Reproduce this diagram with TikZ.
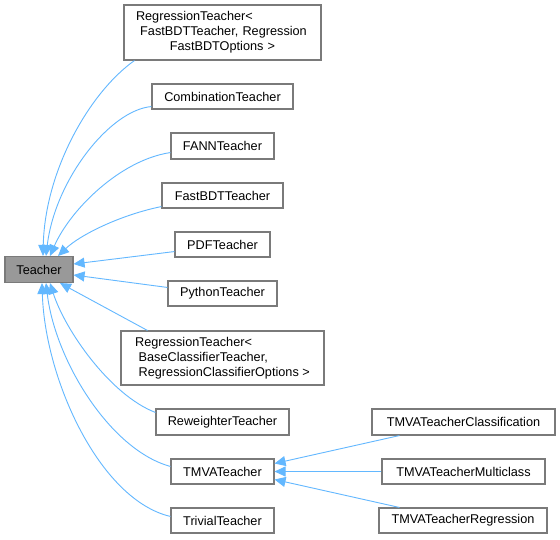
\documentclass[tikz,border=0pt]{standalone}
\usepackage{fontspec}
\setmainfont{Liberation Sans}
\usetikzlibrary{arrows.meta,calc}
\definecolor{edgeblue}{HTML}{63B8FF}
\definecolor{boxline}{HTML}{7A7A7A}
\definecolor{rootfill}{HTML}{999999}
\tikzset{
  cls/.style={draw=boxline, fill=white, line width=1.1pt, inner sep=0pt, font=\fontsize{12.7}{15}\selectfont, text=black},
  inh/.style={draw=edgeblue, line width=0.9pt, -{Triangle[length=11pt,width=10pt,fill=edgeblue]}}
}
\begin{document}
\begin{tikzpicture}[x=1pt,y=-1pt]
\useasboundingbox[fill=white] (0,0) rectangle (560,539);
\node[cls, fill=rootfill, minimum width=68pt, minimum height=26pt] (teacher) at (39,269.5) {Teacher};
\node[cls, minimum width=197pt, minimum height=55pt, text width=173pt, align=left] (rfb) at (222.5,32.5)
  {RegressionTeacher<\\\ FastBDTTeacher, Regression\\\makebox[\linewidth]{FastBDTOptions >}};
\node[cls, minimum width=141pt, minimum height=25pt] (comb) at (222.5,96.5) {CombinationTeacher};
\node[cls, minimum width=103pt, minimum height=26pt] (fann) at (222.5,146) {FANNTeacher};
\node[cls, minimum width=121pt, minimum height=25pt] (fbdt) at (222.5,195.5) {FastBDTTeacher};
\node[cls, minimum width=95pt, minimum height=25pt] (pdf) at (222.5,244.5) {PDFTeacher};
\node[cls, minimum width=109pt, minimum height=25pt] (python) at (222.5,293.5) {PythonTeacher};
\node[cls, minimum width=203pt, minimum height=54pt, align=left] (rbase) at (222.5,358)
  {RegressionTeacher<\\\ BaseClassifierTeacher,\\\ RegressionClassifierOptions >};
\node[cls, minimum width=133pt, minimum height=26pt] (rew) at (222.5,422) {ReweighterTeacher};
\node[cls, minimum width=103pt, minimum height=25pt] (tmva) at (222.5,471.5) {TMVATeacher};
\node[cls, minimum width=103pt, minimum height=25pt] (trivial) at (222.5,520.5) {TrivialTeacher};
\node[cls, minimum width=183pt, minimum height=26pt] (tcls) at (463.5,422) {TMVATeacherClassification};
\node[cls, minimum width=163pt, minimum height=25pt] (tmul) at (463.5,471.5) {TMVATeacherMulticlass};
\node[cls, minimum width=168pt, minimum height=25pt] (treg) at (463,520.5) {TMVATeacherRegression};

\draw[inh] ($(rfb.south west)+(11,0)$) .. controls (90,92) and (45,170) .. ($(teacher.north)+(4,0)$);
\draw[inh] ($(comb.south west)+(0,-3)$) .. controls (110,110) and (55,180) .. ($(teacher.north)+(7,0)$);
\draw[inh] ($(fann.south west)+(0,-7)$) .. controls (120,160) and (70,210) .. ($(teacher.north)+(11,0)$);
\draw[inh] ($(fbdt.south west)+(0,-2)$) .. controls (120,215) and (80,235) .. ($(teacher.north)+(19,0)$);
\draw[inh] ($(pdf.south west)+(0,-6)$) -- ($(teacher.east)+(0,-5.5)$);
\draw[inh] ($(python.north west)+(0,7)$) -- ($(teacher.east)+(0,5.5)$);
\draw[inh] ($(rbase.north west)+(27,0)$) -- ($(teacher.south)+(21,0)$);
\draw[inh] ($(rew.north west)+(0,4)$) .. controls (110,395) and (65,330) .. ($(teacher.south)+(11,0)$);
\draw[inh] ($(tmva.north west)+(0,8)$) .. controls (110,450) and (55,360) .. ($(teacher.south)+(7,0)$);
\draw[inh] ($(trivial.north west)+(0,9)$) .. controls (100,500) and (45,380) .. ($(teacher.south)+(3,0)$);
\draw[inh] ($(tcls.south west)+(28,0)$) -- ($(tmva.east)+(0,-8)$);
\draw[inh] (tmul.west) -- (tmva.east);
\draw[inh] ($(treg.north west)+(21,0)$) -- ($(tmva.east)+(0,8)$);
\end{tikzpicture}
\end{document}
